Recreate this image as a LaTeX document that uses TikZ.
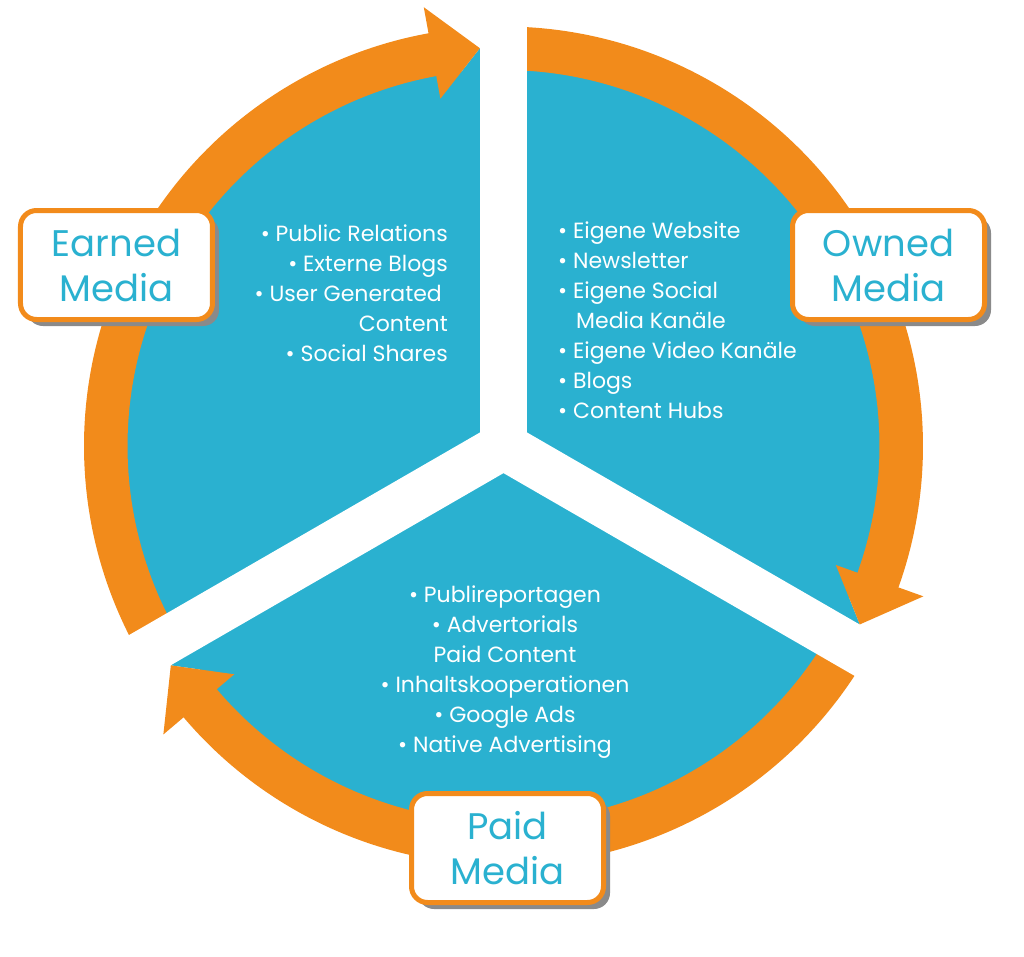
\documentclass[tikz,border=0pt]{standalone}
\usepackage{fontspec}
\setmainfont{Poppins}
\usepackage{tikz}
\usetikzlibrary{calc,shadows,positioning}
\definecolor{mblue}{HTML}{2AB1D0}
\definecolor{morange}{HTML}{F28B1B}
\definecolor{mgrey}{HTML}{8A8A8A}

\begin{document}
\begin{tikzpicture}[x=1pt, y=1pt, line join=round,
  mediabox/.style={draw=morange, line width=5pt, fill=white, rounded corners=16pt, minimum width=192pt, minimum height=109pt, inner sep=0pt, align=center, text=mblue, font=\fontsize{37}{45}\selectfont, drop shadow={shadow xshift=6.5pt, shadow yshift=-6.5pt, fill=mgrey, opacity=1}},
  mediaitems/.style={text=white, inner sep=0pt, font=\fontsize{22}{30}\selectfont}]
\useasboundingbox (-503.5,-510) rectangle (520.5,446);
\coordinate (c) at (0,0);
\fill[mblue] (c) circle (377);
\foreach \r in {0,120,240}{
  \fill[morange] (99.5+\r:376) arc (99.5+\r:210+\r:376) -- (210+\r:419.5) arc (210+\r:99.5+\r:419.5) -- cycle;
  \fill[mblue] (100.3+\r:353) -- (93.4+\r:398.5) -- (92+\r:340) -- cycle;}
\foreach \r in {90,210,330} \draw[white, line width=47pt, line cap=round] (c) -- (\r:470);
\foreach \r in {0,120,240} \fill[morange] (100.3+\r:353) -- (93.4+\r:398.5) -- (100.3+\r:446) -- cycle;
\node[mediabox] (earned) at (-387,181) {Earned\\Media};
\node[mediabox] (owned) at (385,181) {Owned\\Media};
\node[mediabox] (paid) at (4,-402) {Paid\\Media};
\node[mediaitems, anchor=east, align=right] (earnedlist) at (-55.5,153) {\textbullet{} Public Relations\\\textbullet{} Externe Blogs\\\textbullet{} User Generated\hspace*{6pt}\null\\Content\\\textbullet{} Social Shares};
\node[mediaitems, anchor=west, align=left] (ownedlist) at (54.5,125.5) {\textbullet{} Eigene Website\\\textbullet{} Newsletter\\\textbullet{} Eigene Social\\\hspace*{18pt}Media Kanäle\\\textbullet{} Eigene Video Kanäle\\\textbullet{} Blogs\\\textbullet{} Content Hubs};
\node[mediaitems, align=center] (paidlist) at (1.5,-226) {\textbullet{} Publireportagen\\\textbullet{} Advertorials\\Paid Content\\\textbullet{} Inhaltskooperationen\\\textbullet{} Google Ads\\\textbullet{} Native Advertising};
\end{tikzpicture}
\end{document}
